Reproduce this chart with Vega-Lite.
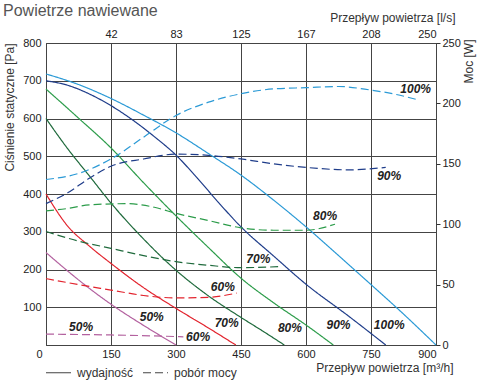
{
  "$schema": "https://vega.github.io/schema/vega-lite/v6.json",
  "width": 390,
  "height": 302,
  "autosize": {"type": "none"},
  "padding": {"left": 46, "top": 43, "right": 44, "bottom": 45},
  "background": "white",
  "config": {
    "view": {"stroke": "#333", "strokeWidth": 1},
    "font": "Liberation Sans",
    "axis": {"labelFont": "Liberation Sans", "titleFont": "Liberation Sans", "labelFontSize": 11, "titleFontSize": 12, "titleFontWeight": "normal", "labelColor": "#222", "titleColor": "#333", "gridColor": "#444", "gridOpacity": 1, "gridWidth": 1, "domain": false, "ticks": false}
  },
  "title": {"text": "Powietrze nawiewane", "anchor": "start", "frame": "bounds", "fontSize": 16, "fontWeight": "normal", "color": "#555", "font": "Liberation Sans", "offset": -8},
  "datasets": {
    "curves": [
      {"series": "100%", "kind": "wydajność", "x": 0, "v": 718},
      {"series": "100%", "kind": "wydajność", "x": 75, "v": 690},
      {"series": "100%", "kind": "wydajność", "x": 150, "v": 653},
      {"series": "100%", "kind": "wydajność", "x": 225, "v": 609},
      {"series": "100%", "kind": "wydajność", "x": 300, "v": 562},
      {"series": "100%", "kind": "wydajność", "x": 375, "v": 507},
      {"series": "100%", "kind": "wydajność", "x": 450, "v": 450},
      {"series": "100%", "kind": "wydajność", "x": 525, "v": 384},
      {"series": "100%", "kind": "wydajność", "x": 600, "v": 313},
      {"series": "100%", "kind": "wydajność", "x": 675, "v": 237},
      {"series": "100%", "kind": "wydajność", "x": 750, "v": 160},
      {"series": "100%", "kind": "wydajność", "x": 825, "v": 82},
      {"series": "100%", "kind": "wydajność", "x": 900, "v": 0},
      {"series": "90%", "kind": "wydajność", "x": 0, "v": 700},
      {"series": "90%", "kind": "wydajność", "x": 50, "v": 688},
      {"series": "90%", "kind": "wydajność", "x": 100, "v": 665},
      {"series": "90%", "kind": "wydajność", "x": 150, "v": 634},
      {"series": "90%", "kind": "wydajność", "x": 200, "v": 596},
      {"series": "90%", "kind": "wydajność", "x": 250, "v": 552},
      {"series": "90%", "kind": "wydajność", "x": 300, "v": 503},
      {"series": "90%", "kind": "wydajność", "x": 350, "v": 441},
      {"series": "90%", "kind": "wydajność", "x": 400, "v": 375},
      {"series": "90%", "kind": "wydajność", "x": 450, "v": 313},
      {"series": "90%", "kind": "wydajność", "x": 525, "v": 236},
      {"series": "90%", "kind": "wydajność", "x": 600, "v": 161},
      {"series": "90%", "kind": "wydajność", "x": 700, "v": 75},
      {"series": "90%", "kind": "wydajność", "x": 784, "v": 0},
      {"series": "80%", "kind": "wydajność", "x": 0, "v": 678},
      {"series": "80%", "kind": "wydajność", "x": 75, "v": 601},
      {"series": "80%", "kind": "wydajność", "x": 150, "v": 522},
      {"series": "80%", "kind": "wydajność", "x": 225, "v": 430},
      {"series": "80%", "kind": "wydajność", "x": 300, "v": 342},
      {"series": "80%", "kind": "wydajność", "x": 375, "v": 258},
      {"series": "80%", "kind": "wydajność", "x": 450, "v": 177},
      {"series": "80%", "kind": "wydajność", "x": 525, "v": 112},
      {"series": "80%", "kind": "wydajność", "x": 600, "v": 53},
      {"series": "80%", "kind": "wydajność", "x": 663, "v": 0},
      {"series": "70%", "kind": "wydajność", "x": 0, "v": 600},
      {"series": "70%", "kind": "wydajność", "x": 50, "v": 520},
      {"series": "70%", "kind": "wydajność", "x": 100, "v": 448},
      {"series": "70%", "kind": "wydajność", "x": 150, "v": 376},
      {"series": "70%", "kind": "wydajność", "x": 225, "v": 281},
      {"series": "70%", "kind": "wydajność", "x": 300, "v": 198},
      {"series": "70%", "kind": "wydajność", "x": 375, "v": 130},
      {"series": "70%", "kind": "wydajność", "x": 450, "v": 73},
      {"series": "70%", "kind": "wydajność", "x": 500, "v": 37},
      {"series": "70%", "kind": "wydajność", "x": 550, "v": 0},
      {"series": "60%", "kind": "wydajność", "x": 0, "v": 400},
      {"series": "60%", "kind": "wydajność", "x": 50, "v": 315},
      {"series": "60%", "kind": "wydajność", "x": 100, "v": 262},
      {"series": "60%", "kind": "wydajność", "x": 150, "v": 216},
      {"series": "60%", "kind": "wydajność", "x": 225, "v": 152},
      {"series": "60%", "kind": "wydajność", "x": 300, "v": 97},
      {"series": "60%", "kind": "wydajność", "x": 375, "v": 45},
      {"series": "60%", "kind": "wydajność", "x": 438, "v": 0},
      {"series": "50%", "kind": "wydajność", "x": 0, "v": 245},
      {"series": "50%", "kind": "wydajność", "x": 50, "v": 196},
      {"series": "50%", "kind": "wydajność", "x": 100, "v": 150},
      {"series": "50%", "kind": "wydajność", "x": 150, "v": 108},
      {"series": "50%", "kind": "wydajność", "x": 225, "v": 52},
      {"series": "50%", "kind": "wydajność", "x": 300, "v": 0},
      {"series": "100%", "kind": "pobór mocy", "x": 0, "v": 137},
      {"series": "100%", "kind": "pobór mocy", "x": 75, "v": 142},
      {"series": "100%", "kind": "pobór mocy", "x": 150, "v": 154},
      {"series": "100%", "kind": "pobór mocy", "x": 225, "v": 172},
      {"series": "100%", "kind": "pobór mocy", "x": 300, "v": 190},
      {"series": "100%", "kind": "pobór mocy", "x": 375, "v": 201},
      {"series": "100%", "kind": "pobór mocy", "x": 450, "v": 208},
      {"series": "100%", "kind": "pobór mocy", "x": 525, "v": 212},
      {"series": "100%", "kind": "pobór mocy", "x": 600, "v": 213},
      {"series": "100%", "kind": "pobór mocy", "x": 675, "v": 214},
      {"series": "100%", "kind": "pobór mocy", "x": 750, "v": 211},
      {"series": "100%", "kind": "pobór mocy", "x": 800, "v": 208},
      {"series": "100%", "kind": "pobór mocy", "x": 858, "v": 203},
      {"series": "90%", "kind": "pobór mocy", "x": 0, "v": 117},
      {"series": "90%", "kind": "pobór mocy", "x": 50, "v": 126},
      {"series": "90%", "kind": "pobór mocy", "x": 100, "v": 138},
      {"series": "90%", "kind": "pobór mocy", "x": 150, "v": 148},
      {"series": "90%", "kind": "pobór mocy", "x": 225, "v": 154},
      {"series": "90%", "kind": "pobór mocy", "x": 300, "v": 158},
      {"series": "90%", "kind": "pobór mocy", "x": 375, "v": 157},
      {"series": "90%", "kind": "pobór mocy", "x": 450, "v": 154},
      {"series": "90%", "kind": "pobór mocy", "x": 525, "v": 150},
      {"series": "90%", "kind": "pobór mocy", "x": 600, "v": 147},
      {"series": "90%", "kind": "pobór mocy", "x": 700, "v": 145},
      {"series": "90%", "kind": "pobór mocy", "x": 784, "v": 147},
      {"series": "80%", "kind": "pobór mocy", "x": 0, "v": 111},
      {"series": "80%", "kind": "pobór mocy", "x": 50, "v": 113},
      {"series": "80%", "kind": "pobór mocy", "x": 100, "v": 116},
      {"series": "80%", "kind": "pobór mocy", "x": 186, "v": 117},
      {"series": "80%", "kind": "pobór mocy", "x": 250, "v": 114},
      {"series": "80%", "kind": "pobór mocy", "x": 300, "v": 109},
      {"series": "80%", "kind": "pobór mocy", "x": 375, "v": 103},
      {"series": "80%", "kind": "pobór mocy", "x": 450, "v": 97},
      {"series": "80%", "kind": "pobór mocy", "x": 525, "v": 95},
      {"series": "80%", "kind": "pobór mocy", "x": 600, "v": 95},
      {"series": "80%", "kind": "pobór mocy", "x": 667, "v": 100},
      {"series": "70%", "kind": "pobór mocy", "x": 0, "v": 94},
      {"series": "70%", "kind": "pobór mocy", "x": 75, "v": 86},
      {"series": "70%", "kind": "pobór mocy", "x": 150, "v": 80},
      {"series": "70%", "kind": "pobór mocy", "x": 225, "v": 74},
      {"series": "70%", "kind": "pobór mocy", "x": 300, "v": 69},
      {"series": "70%", "kind": "pobór mocy", "x": 375, "v": 66},
      {"series": "70%", "kind": "pobór mocy", "x": 450, "v": 64},
      {"series": "70%", "kind": "pobór mocy", "x": 544, "v": 65},
      {"series": "60%", "kind": "pobór mocy", "x": 0, "v": 55},
      {"series": "60%", "kind": "pobór mocy", "x": 75, "v": 50},
      {"series": "60%", "kind": "pobór mocy", "x": 150, "v": 45.5},
      {"series": "60%", "kind": "pobór mocy", "x": 225, "v": 41},
      {"series": "60%", "kind": "pobór mocy", "x": 300, "v": 39},
      {"series": "60%", "kind": "pobór mocy", "x": 375, "v": 39.5},
      {"series": "60%", "kind": "pobór mocy", "x": 440, "v": 43},
      {"series": "50%", "kind": "pobór mocy", "x": 0, "v": 9},
      {"series": "50%", "kind": "pobór mocy", "x": 150, "v": 8.3},
      {"series": "50%", "kind": "pobór mocy", "x": 300, "v": 7},
      {"series": "50%", "kind": "pobór mocy", "x": 317, "v": 6.8}
    ],
    "labels": [
      {"label": "100%", "x": 853, "y": 679},
      {"label": "90%", "x": 792, "y": 447},
      {"label": "80%", "x": 644, "y": 341},
      {"label": "70%", "x": 490, "y": 227},
      {"label": "60%", "x": 408, "y": 154},
      {"label": "50%", "x": 81, "y": 48},
      {"label": "50%", "x": 244, "y": 75},
      {"label": "60%", "x": 351, "y": 22},
      {"label": "70%", "x": 417, "y": 57},
      {"label": "80%", "x": 563, "y": 44},
      {"label": "90%", "x": 675, "y": 53},
      {"label": "100%", "x": 792, "y": 53}
    ]
  },
  "layer": [
    {
      "data": {"name": "curves"},
      "transform": [{"filter": {"field": "kind", "equal": "wydajność"}}],
      "mark": {"type": "line", "interpolate": "monotone", "strokeWidth": 1.2},
      "encoding": {
        "x": {"field": "x", "type": "quantitative", "scale": {"domain": [0, 900], "nice": false},
          "axis": {"orient": "bottom", "values": [0, 150, 300, 450, 600, 750, 900], "grid": true, "labelFlush": false,
            "labelAlign": {"condition": {"test": "datum.value === 0 || datum.value === 900", "value": "right"}, "value": "center"},
            "labelOffset": {"condition": {"test": "datum.value === 0", "value": -4}, "value": 0},
            "labelPadding": 3,
            "title": "Przepływ powietrza  [m³/h]", "titleAlign": "right", "titleX": 407, "titleY": 22, "titleBaseline": "middle"}},
        "y": {"field": "v", "type": "quantitative", "scale": {"domain": [0, 800], "nice": false},
          "axis": {"orient": "left", "values": [0, 100, 200, 300, 400, 500, 600, 700, 800], "grid": true,
            "labelExpr": "datum.value === 0 ? '' : datum.label", "labelPadding": 5,
            "title": "Ciśnienie statyczne [Pa]", "titleAlign": "right", "titleX": -37, "titleY": 0, "titleBaseline": "middle", "titleAngle": -90}},
        "color": {"field": "series", "type": "nominal", "legend": null,
          "scale": {"domain": ["100%", "90%", "80%", "70%", "60%", "50%"], "range": ["#2b9ad6", "#1f3d8a", "#2c9c4a", "#1f6a3c", "#e2232d", "#b3619f"]}},
        "strokeDash": {"field": "kind", "type": "nominal",
          "scale": {"domain": ["wydajność", "pobór mocy"], "range": [[1, 0], [8, 4]]},
          "legend": {"orient": "none", "legendX": -1, "legendY": 316, "direction": "horizontal", "title": null,
            "symbolType": "stroke", "symbolSize": 625, "symbolStrokeWidth": 1.2, "symbolStrokeColor": "#444", "symbolDash": [3, 1.5],
            "labelFontSize": 12, "labelColor": "#333", "labelFont": "Liberation Sans", "labelOffset": 5, "columnPadding": 6, "padding": 0}}
      }
    },
    {
      "data": {"name": "curves"},
      "transform": [{"filter": {"field": "kind", "equal": "pobór mocy"}}],
      "mark": {"type": "line", "interpolate": "monotone", "strokeWidth": 1.2},
      "encoding": {
        "x": {"field": "x", "type": "quantitative", "scale": {"domain": [0, 900], "nice": false},
          "axis": {"orient": "top", "values": [150, 300, 450, 600, 750, 900], "grid": false, "labelFlush": false,
            "labelExpr": "format(round(datum.value / 3.6), 'd')",
            "labelAlign": {"condition": {"test": "datum.value === 900", "value": "right"}, "value": "center"},
            "labelPadding": 4,
            "title": "Przepływ powietrza  [l/s]", "titleAlign": "right", "titleX": 409, "titleY": -26, "titleBaseline": "middle"}},
        "y": {"field": "v", "type": "quantitative", "scale": {"domain": [0, 250], "nice": false},
          "axis": {"orient": "right", "values": [0, 50, 100, 150, 200, 250], "grid": false, "ticks": true, "tickSize": 4, "tickColor": "#333",
            "labelPadding": 2,
            "title": "Moc [W]", "titleAngle": -90, "titleAlign": "right", "titleX": 32, "titleY": -4, "titleBaseline": "middle"}},
        "color": {"field": "series", "type": "nominal", "legend": null,
          "scale": {"domain": ["100%", "90%", "80%", "70%", "60%", "50%"], "range": ["#2b9ad6", "#1f3d8a", "#2c9c4a", "#1f6a3c", "#e2232d", "#b3619f"]}},
        "strokeDash": {"field": "kind", "type": "nominal",
          "scale": {"domain": ["wydajność", "pobór mocy"], "range": [[1, 0], [8, 4]]}}
      }
    },
    {
      "data": {"name": "labels"},
      "mark": {"type": "text", "font": "Liberation Sans", "fontSize": 12, "fontStyle": "italic", "fontWeight": "bold", "color": "#222", "align": "center", "baseline": "middle"},
      "encoding": {
        "x": {"field": "x", "type": "quantitative", "scale": {"domain": [0, 900], "nice": false}, "axis": null},
        "y": {"field": "y", "type": "quantitative", "scale": {"domain": [0, 800], "nice": false}, "axis": null},
        "text": {"field": "label"}
      }
    }
  ],
  "resolve": {"scale": {"y": "independent"}, "axis": {"x": "independent", "y": "independent"}}
}
